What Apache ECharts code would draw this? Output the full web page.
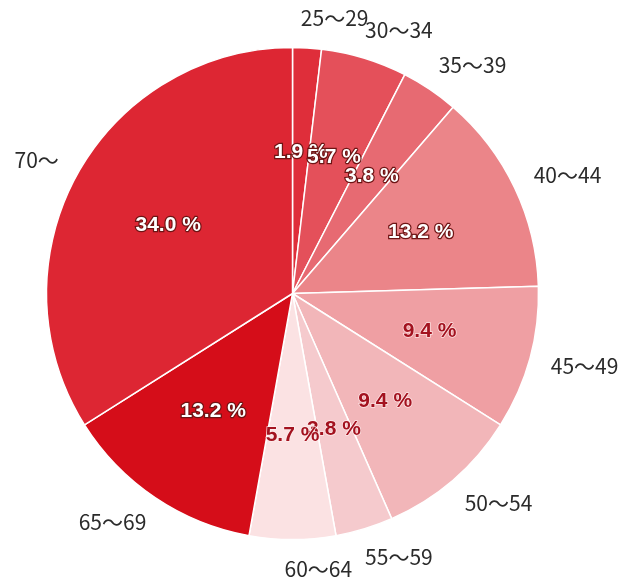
<!DOCTYPE html>
<html>
<head>
<meta charset="utf-8">
<script src="https://cdn.jsdelivr.net/npm/echarts@6/dist/echarts.min.js"></script>
<style>html,body{margin:0;padding:0;background:#fff}#c{width:634px;height:582px}</style>
</head>
<body>
<div id="c"></div>
<script>
const categories = ['25～29','30～34','35～39','40～44','45～49','50～54','55～59','60～64','65～69','70～'];
const counts = [1, 3, 2, 7, 5, 5, 2, 3, 7, 18];
const colors = ['#df2e3a','#e4505a','#e76a72','#eb8589','#ef9fa3','#f2b6b9','#f5cacd','#fbe2e3','#d50d19','#dd2633'];
const darkText = [false,false,false,false,true,true,true,true,false,false];

const total = counts.reduce((a,b)=>a+b,0);
const cx = 292.5, cy = 293.5, R = 246;

const mainData = categories.map((c,i)=>({name:c, value:counts[i], itemStyle:{color:colors[i]}}));
const labelData = categories.map((c,i)=>({
  name:c, value:counts[i],
  label: darkText[i]
    ? {color:'#a3121f', textBorderColor:'rgba(255,240,240,0.8)', textBorderWidth:1.5}
    : {color:'#ffffff', textBorderColor:'#6e1414', textBorderWidth:2.5}
}));

const chart = echarts.init(document.getElementById('c'), null, {renderer:'canvas'});
chart.setOption({
  animation:false,
  series:[
    {
      type:'pie',
      center:[cx, cy],
      radius:R,
      startAngle:90,
      clockwise:true,
      avoidLabelOverlap:false,
      silent:true,
      data:mainData,
      itemStyle:{borderColor:'#ffffff', borderWidth:1.5},
      labelLayout:{hideOverlap:false},
      label:{
        show:true,
        position:'outside',
        formatter:'{b}',
        fontFamily:'"Noto Sans CJK JP", sans-serif',
        fontSize:21,
        color:'#2b2b2b',
        distanceToLabelLine:-8
      },
      labelLine:{show:false, length:30, length2:0}
    },
    {
      type:'pie',
      center:[cx, cy],
      radius:278,
      startAngle:90,
      clockwise:true,
      avoidLabelOverlap:false,
      silent:true,
      data:labelData,
      itemStyle:{color:'rgba(0,0,0,0)', borderWidth:0},
      labelLayout:{hideOverlap:false},
      label:{
        show:true,
        position:'inside',
        formatter:(p)=> (p.value/total*100).toFixed(1) + ' %',
        fontFamily:'"Liberation Sans", Arial, sans-serif',
        fontWeight:'bold',
        fontSize:21
      },
      labelLine:{show:false}
    }
  ]
});
</script>
</body>
</html>
